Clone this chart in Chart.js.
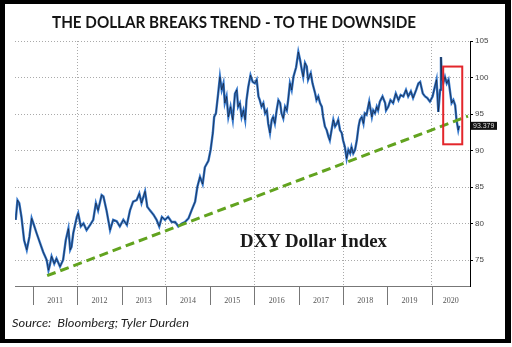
<!DOCTYPE html>
<html>
<head>
<meta charset="utf-8">
<script src="https://cdn.jsdelivr.net/npm/chart.js@4.4.1/dist/chart.umd.min.js"></script>
<style>
  html, body { margin: 0; padding: 0; background: #fff; }
  #wrap { position: relative; width: 512px; height: 347px; overflow: hidden; }
  #frame { position: absolute; left: 0; top: 0; width: 511px; height: 343px; box-sizing: border-box;
           border-style: solid; border-color: #000; border-width: 4px 6px 4px 5px; }
  #chart { position: absolute; left: 0; top: 0; }
  .txt { position: absolute; white-space: nowrap; transform-origin: 0 0; line-height: 1; }
  #title { left: 52px; top: 11px; font: bold 17px Lato, "Liberation Sans", sans-serif; color: #151515; }
  #source { left: 12px; top: 315px; font: italic 12px Lato, "Open Sans", sans-serif; color: #222; }
  #dxy { left: 240px; top: 230px; font: bold 19px "Liberation Serif", "Times New Roman", serif; color: #1a1a1a; }
</style>
</head>
<body>
<div id="wrap">
  <div id="frame"></div>
  <canvas id="chart" width="512" height="347"></canvas>
  <div id="title" class="txt" data-w="364">THE DOLLAR BREAKS TREND - TO THE DOWNSIDE</div>
  <div id="dxy" class="txt" data-w="147">DXY Dollar Index</div>
  <div id="source" class="txt" data-w="177">Source:&nbsp; Bloomberg; Tyler Durden</div>
</div>
<script>
// --- DATA ---
const years = [
  2010.61, 2010.65, 2010.69, 2010.74, 2010.80, 2010.86, 2010.92, 2010.97, 2011.01, 2011.08,
  2011.16, 2011.23, 2011.31, 2011.35, 2011.38, 2011.42, 2011.48, 2011.53, 2011.61, 2011.68,
  2011.74, 2011.80, 2011.84, 2011.87, 2011.91, 2011.99, 2012.02, 2012.08, 2012.14, 2012.21,
  2012.29, 2012.36, 2012.42, 2012.47, 2012.55, 2012.59, 2012.66, 2012.74, 2012.81, 2012.89,
  2012.96, 2013.04, 2013.12, 2013.19, 2013.26, 2013.34, 2013.40, 2013.45, 2013.53, 2013.58,
  2013.64, 2013.72, 2013.79, 2013.85, 2013.91, 2013.98, 2014.05, 2014.13, 2014.21, 2014.28,
  2014.36, 2014.43, 2014.51, 2014.58, 2014.66, 2014.71, 2014.77, 2014.83, 2014.88, 2014.96,
  2015.01, 2015.06, 2015.09, 2015.13, 2015.18, 2015.22, 2015.26, 2015.30, 2015.33, 2015.37,
  2015.41, 2015.46, 2015.51, 2015.56, 2015.60, 2015.63, 2015.67, 2015.71, 2015.75, 2015.79,
  2015.82, 2015.86, 2015.91, 2015.96, 2016.01, 2016.05, 2016.09, 2016.12, 2016.16, 2016.20,
  2016.24, 2016.28, 2016.31, 2016.35, 2016.39, 2016.42, 2016.46, 2016.50, 2016.54, 2016.58,
  2016.61, 2016.65, 2016.69, 2016.73, 2016.76, 2016.80, 2016.84, 2016.88, 2016.94, 2016.99,
  2017.03, 2017.07, 2017.10, 2017.14, 2017.18, 2017.21, 2017.27, 2017.31, 2017.37, 2017.40,
  2017.44, 2017.48, 2017.52, 2017.55, 2017.59, 2017.63, 2017.67, 2017.70, 2017.74, 2017.78,
  2017.82, 2017.86, 2017.89, 2017.93, 2017.97, 2018.00, 2018.04, 2018.08, 2018.12, 2018.16,
  2018.19, 2018.23, 2018.27, 2018.31, 2018.35, 2018.38, 2018.42, 2018.46, 2018.49, 2018.53,
  2018.59, 2018.65, 2018.68, 2018.72, 2018.76, 2018.79, 2018.83, 2018.89, 2018.95, 2018.97,
  2019.02, 2019.07, 2019.13, 2019.19, 2019.25, 2019.30, 2019.36, 2019.42, 2019.47, 2019.53,
  2019.58, 2019.65, 2019.70, 2019.74, 2019.80, 2019.85, 2019.90, 2019.96, 2020.02, 2020.07,
  2020.11, 2020.15, 2020.19, 2020.21, 2020.23, 2020.26, 2020.30, 2020.34, 2020.38, 2020.41,
  2020.45, 2020.49, 2020.53, 2020.56, 2020.60, 2020.62
];
const dxyValues = [
  80.5, 83.2, 82.8, 80.9, 77.7, 76.4, 78.2, 80.7, 80.0, 78.7,
  77.3, 76.1, 75.0, 73.6, 74.3, 75.5, 74.5, 75.2, 74.1, 75.0,
  77.7, 79.3, 76.4, 76.8, 78.7, 80.9, 81.4, 79.6, 80.0, 79.1,
  79.8, 80.5, 82.8, 81.8, 83.9, 83.7, 81.8, 79.1, 80.5, 80.3,
  79.6, 80.5, 79.8, 81.8, 83.0, 83.2, 84.1, 82.8, 84.4, 82.3,
  81.8, 81.2, 80.5, 79.6, 80.9, 80.5, 80.9, 80.2, 80.2, 79.6,
  80.0, 80.2, 80.7, 81.8, 83.0, 85.0, 86.4, 85.4, 87.7, 88.6,
  90.1, 92.4, 94.6, 95.1, 97.8, 100.1, 98.3, 99.2, 96.5, 97.4,
  94.6, 96.0, 94.2, 97.8, 98.3, 96.0, 96.5, 94.6, 95.5, 94.2,
  96.9, 98.7, 100.3, 99.4, 99.2, 99.7, 97.4, 96.9, 96.0, 96.5,
  95.1, 95.5, 93.7, 92.4, 94.2, 94.6, 93.7, 95.5, 96.9, 96.5,
  95.1, 94.4, 96.0, 95.5, 96.9, 99.2, 98.3, 100.1, 101.4, 103.5,
  102.4, 101.0, 100.1, 102.0, 101.5, 99.7, 100.6, 99.2, 97.8, 96.9,
  97.4, 96.5, 96.0, 94.6, 93.3, 92.8, 91.9, 91.4, 92.8, 94.2,
  93.3, 93.7, 94.2, 92.8, 92.4, 91.4, 90.5, 88.9, 90.1, 89.6,
  90.5, 89.6, 90.1, 91.4, 93.3, 94.2, 94.6, 93.7, 95.1, 94.9,
  96.7, 94.6, 95.5, 95.1, 96.0, 95.5, 96.7, 97.4, 96.5, 95.5,
  96.0, 96.9, 96.5, 97.8, 96.9, 97.6, 97.4, 98.3, 97.4, 98.1,
  97.2, 98.3, 99.2, 99.4, 97.8, 97.4, 97.2, 96.7, 97.4, 98.7,
  99.7, 95.3, 98.3, 102.8, 99.7, 99.2, 100.1, 99.2, 99.7, 98.3,
  96.5, 96.9, 96.2, 94.2, 92.8, 93.379
];
const trendYears = [2011.32, 2020.82];
const trendValues = [72.85, 94.7];
const yearLabels = ['2011', '2012', '2013', '2014', '2015', '2016', '2017', '2018', '2019', '2020'];
const yTicks = [75, 80, 85, 90, 95, 100, 105];
const xGridYears = [2012, 2014, 2016, 2018, 2020];
const boxYears = [2020.26, 2020.69];   // highlighted breakdown
const boxValues = [90.85, 101.5];

const dxyPoints = years.map((x, i) => ({ x: x, y: dxyValues[i] }));
const trendPoints = trendYears.map((x, i) => ({ x: x, y: trendValues[i] }));

// --- EXTRA DRAWING: red box, year strip, last-value tag ---
const extras = {
  id: 'extras',
  afterDatasetsDraw(chart) {
    const { ctx, scales: { x, y } } = chart;
    ctx.save();
    ctx.strokeStyle = '#e3262b';
    ctx.lineWidth = 2;
    const x0 = x.getPixelForValue(boxYears[0]), x1 = x.getPixelForValue(boxYears[1]);
    const y0 = y.getPixelForValue(boxValues[1]), y1 = y.getPixelForValue(boxValues[0]);
    ctx.strokeRect(x0, y0, x1 - x0, y1 - y0);
    ctx.restore();
  },
  afterDraw(chart) {
    const { ctx, chartArea, scales: { x, y } } = chart;
    ctx.save();
    // year separators + labels under the axis
    ctx.strokeStyle = '#777';
    ctx.lineWidth = 1;
    ctx.fillStyle = '#555';
    ctx.font = '8px "Liberation Serif", serif';
    ctx.textAlign = 'center';
    ctx.textBaseline = 'middle';
    yearLabels.forEach((lbl, i) => {
      const yr = Number(lbl);
      const px = Math.round(x.getPixelForValue(yr)) + 0.5;
      ctx.beginPath();
      ctx.moveTo(px, chartArea.bottom + 1);
      ctx.lineTo(px, chartArea.bottom + 19);
      ctx.stroke();
      const mid = i === yearLabels.length - 1
        ? (x.getPixelForValue(yr) + chartArea.right) / 2
        : x.getPixelForValue(yr + 0.5);
      ctx.fillText(lbl, mid, chartArea.bottom + 15);
    });
    // last value tag on the right axis
    const last = dxyValues[dxyValues.length - 1];
    const ty = y.getPixelForValue(last);
    ctx.fillStyle = '#111';
    ctx.fillRect(chartArea.right + 1, ty - 4, 26, 8);
    ctx.fillStyle = '#ddd';
    ctx.font = '7px "Liberation Sans", sans-serif';
    ctx.textAlign = 'left';
    ctx.fillText(last.toFixed(3), chartArea.right + 3, ty + 0.5);
    ctx.restore();
  }
};

new Chart(document.getElementById('chart'), {
  type: 'line',
  data: {
    datasets: [
      { data: trendPoints, borderColor: '#62a31f', borderWidth: 3, borderDash: [9, 5],
        pointRadius: 0, fill: false, order: 0 },
      { data: dxyPoints, borderColor: 'rgba(15,15,25,0.85)', borderWidth: 0.7, pointRadius: 0,
        tension: 0, fill: false, order: 1 },
      { data: dxyPoints, borderColor: '#3578cc', borderWidth: 2.4, pointRadius: 0,
        tension: 0, fill: false, order: 2 }
    ]
  },
  options: {
    responsive: false,
    animation: false,
    events: [],
    layout: { padding: { left: 15, top: 41, right: 12, bottom: 61 } },
    plugins: { legend: { display: false }, tooltip: { enabled: false } },
    scales: {
      x: {
        type: 'linear', min: 2010.594, max: 2020.865,
        afterBuildTicks: s => { s.ticks = xGridYears.map(v => ({ value: v })); },
        afterFit: s => { s.height = 0; },
        ticks: { display: false },
        grid: { color: '#aaa', lineWidth: 1, drawTicks: false },
        border: { display: true, color: '#777', dash: [1, 2] }
      },
      y: {
        position: 'right', min: 71.44, max: 105,
        afterBuildTicks: s => { s.ticks = yTicks.map(v => ({ value: v })); },
        afterFit: s => { s.width = 30; },
        ticks: { color: '#444', padding: 2, font: { family: 'Liberation Sans', size: 8 } },
        grid: { color: '#aaa', lineWidth: 1, tickLength: 3, tickColor: '#000', tickBorderDash: [] },
        border: { display: true, color: '#000', dash: [1, 2] }
      }
    }
  },
  plugins: [extras]
});

// squeeze the text blocks to the widths measured on the picture
document.querySelectorAll('.txt').forEach(el => {
  const w = el.getBoundingClientRect().width;
  el.style.transform = 'scaleX(' + (Number(el.dataset.w) / w) + ')';
});
</script>
</body>
</html>
